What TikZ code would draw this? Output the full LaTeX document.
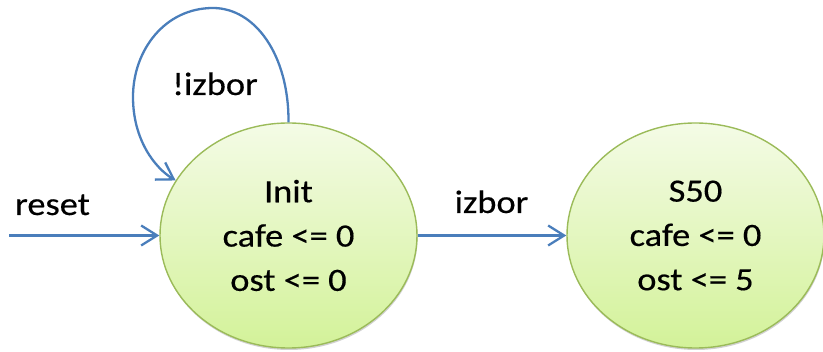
\documentclass[tikz,border=0pt]{standalone}
\usepackage{fontspec}
\setmainfont{Carlito}[FakeStretch=1.12,FakeBold=0.4]
\usetikzlibrary{shapes.geometric,arrows.meta,shadows}
\definecolor{edgeblue}{HTML}{4A7EBB}
\definecolor{stateborder}{HTML}{9BBB59}
\definecolor{statetop}{HTML}{F4FBE6}
\definecolor{statebottom}{HTML}{D3F299}
\begin{document}
\begin{tikzpicture}[x=1pt,y=-1pt,
  every node/.style={font=\fontsize{32.5}{44.3}\selectfont},
  state/.style={ellipse, draw=stateborder, line width=1.4pt,
    top color=statetop, bottom color=statebottom,
    minimum width=257pt, minimum height=225pt, inner sep=0pt,
    align=center,
    drop shadow={shadow xshift=0.6pt, shadow yshift=-2pt, opacity=0.18, fill=black}},
  edge/.style={draw=edgeblue, line width=2.3pt,
    -{Straight Barb[length=16pt, width=20pt, line width=2.3pt]}},
  lbl/.style={anchor=base, inner sep=0pt}]
  \useasboundingbox (0,0) rectangle (823,352);

  % states
  \node[state] (init) at (288.5,235.5) {Init\\cafe <= 0\\ost <= 0};
  \node[state] (s50)  at (695.5,235.5) {S50\\cafe <= 0\\ost <= 5};

  % reset entry
  \coordinate (rst) at (9,235.5);
  \draw[edge] (rst) -- (init.west);
  \node[lbl] (resetlbl) at (52.5,215) {reset};

  % transition Init -> S50
  \draw[edge] (init.east) -- (s50.west);
  \node[lbl] (izborlbl) at (491.5,213) {izbor};

  % self loop on Init
  \draw[edge] (init.north) .. controls (289,55) and (255,8) .. (213,8)
    .. controls (165,8) and (133,50) .. (133,97)
    .. controls (133,140) and (155,168) .. (init.154);
  \node[lbl] (notizborlbl) at (215,95) {!izbor};
\end{tikzpicture}
\end{document}
